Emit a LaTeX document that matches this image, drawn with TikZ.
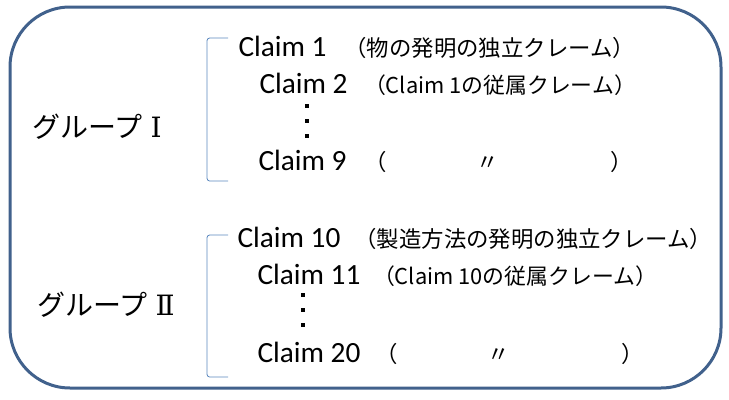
\documentclass[tikz,border=0pt]{standalone}
\usepackage{fontspec}
\setmainfont{Carlito}
\newfontfamily\jpfont{Noto Sans CJK JP}
\newfontfamily\numfont{DejaVu Serif}
\definecolor{frameblue}{RGB}{65,97,140}
\definecolor{bracketblue}{RGB}{90,135,190}
\tikzset{
	claim/.style={anchor=base west, inner sep=0pt, font=\fontsize{22}{26}\selectfont},
	note/.style={anchor=base west, inner sep=0pt, font=\jpfont\fontsize{16.8}{20}\selectfont},
	subnote/.style={anchor=base west, inner sep=0pt, font=\jpfont\fontsize{16.4}{19}\selectfont},
	group/.style={inner sep=0pt, font=\jpfont\fontsize{21}{25}\selectfont},
	dotmark/.style={fill, minimum size=3pt, inner sep=0pt}}
\tikzset{every picture/.style={line width=0.75pt}}

\begin{document}
\begin{tikzpicture}[x=0.75pt,y=0.75pt,yscale=-1,xscale=1]
	\useasboundingbox (0,0) rectangle (729,400);

	%Shape: Rounded Rect
	\draw [color=frameblue, line width=2.25pt, rounded corners=45pt] (10,7) rectangle (721,388);
	%Shape: Brackets
	\draw [color=bracketblue, line width=0.6pt, rounded corners=2pt] (228,38) -- (207,38) -- (207,181) -- (228,181);
	\draw [color=bracketblue, line width=0.6pt, rounded corners=2pt] (228,235) -- (207,235) -- (207,377) -- (228,377);

	% Text Node
	\node [group] (g1) at (97,127) {グループ\;{\numfont\fontsize{21}{24}\selectfont Ⅰ}};
	% Text Node
	\node [group] (g2) at (106,305) {グループ\;{\numfont\fontsize{21}{24}\selectfont Ⅱ}};

	% Text Node
	\node [claim] (c1) at (238,56) {Claim 1};
	\node [note] (n1) at (344,56) {（物の発明の独立クレーム）};
	\node [claim] (c2) at (259,93) {Claim 2};
	\node [subnote] (n2) at (363.5,93) {（Claim 1の従属クレーム）};
	\node [claim] (c9) at (258,170) {Claim 9};
	\node [note] (n9) at (364,170) {（　　　　〃　　　　　）};

	% Text Node
	\node [claim] (c10) at (237,247) {Claim 10};
	\node [note] (n10) at (354,247) {（製造方法の発明の独立クレーム）};
	\node [claim] (c11) at (257,284) {Claim 11};
	\node [subnote] (n11) at (372.5,284) {（Claim 10の従属クレーム）};
	\node [claim] (c20) at (257,362) {Claim 20};
	\node [note] (n20) at (375,362) {（　　　　〃　　　　　）};

	%Dots
	\foreach \k/\y in {1/106,2/121,3/136}
		\node [dotmark] (da\k) at (307,\y) {};
	\foreach \k/\y in {1/295,2/310,3/325}
		\node [dotmark] (db\k) at (303,\y) {};

\end{tikzpicture}
\end{document}
